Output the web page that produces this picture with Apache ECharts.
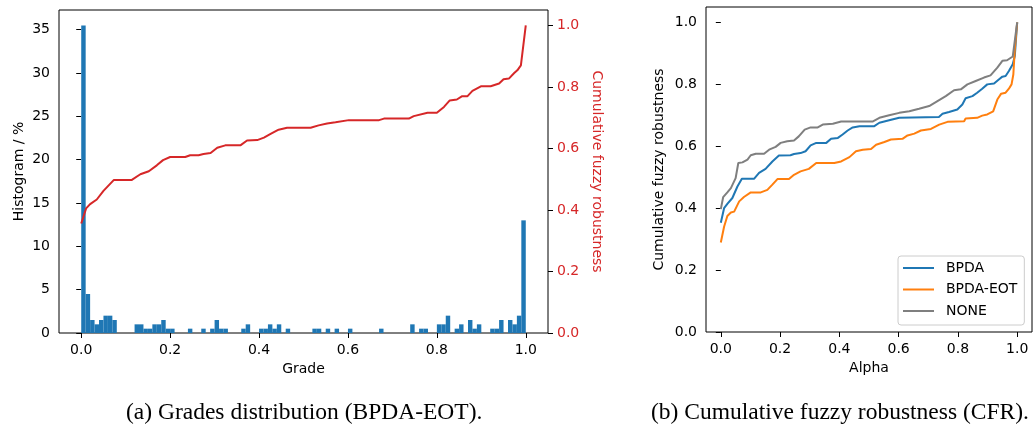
<!DOCTYPE html>
<html>
<head>
<meta charset="utf-8">
<script src="https://cdn.jsdelivr.net/npm/echarts@6/dist/echarts.min.js"></script>
<style>
  html, body { margin: 0; padding: 0; background: #fff; }
  #main { width: 1033px; height: 431px; }
</style>
</head>
<body>
<div id="main"></div>
<script>
    // (a) histogram of grades, % per 0.01 bin (100 bins from 0 to 1)
    var histPct = [
        35.5, 4.5, 1.5, 1.0, 1.5, 2.0, 2.0, 1.5, 0, 0,
        0, 0, 1.0, 1.0, 0.5, 0.5, 1.0, 1.0, 1.5, 0.5,
        0.5, 0, 0, 0, 0.5, 0, 0, 0.5, 0, 0.5,
        1.5, 0.5, 0.5, 0, 0, 0, 0.5, 1.0, 0, 0,
        0.5, 0.5, 1.0, 0.5, 1.0, 0, 0.5, 0, 0, 0,
        0, 0, 0.5, 0.5, 0, 0.5, 0, 0.5, 0, 0,
        0.5, 0, 0, 0, 0, 0, 0, 0.5, 0, 0,
        0, 0, 0, 0, 1.0, 0, 0.5, 0.5, 0, 0,
        1.0, 1.0, 2.0, 0, 0.5, 1.0, 0, 1.5, 0.5, 1.0,
        0, 0, 0.5, 0.5, 1.5, 0, 1.5, 1.0, 2.0, 13.0
    ];
    var binWidth = 0.01;

    // (a) cumulative fuzzy robustness vs grade (red line)
    var gradeX = [0, 0.011, 0.020, 0.035, 0.050, 0.073, 0.113, 0.133, 0.152, 0.170,
        0.184, 0.200, 0.234, 0.245, 0.264, 0.275, 0.291, 0.306, 0.324, 0.358,
        0.373, 0.396, 0.411, 0.426, 0.444, 0.463, 0.516, 0.534, 0.553, 0.572,
        0.602, 0.670, 0.681, 0.737, 0.748, 0.779, 0.800, 0.816, 0.829, 0.845,
        0.857, 0.869, 0.880, 0.899, 0.921, 0.940, 0.950, 0.962, 0.974, 0.981,
        0.989, 1.0];
    var gradeCfr = [0.356, 0.405, 0.419, 0.434, 0.462, 0.497, 0.497, 0.516, 0.526, 0.545,
        0.562, 0.572, 0.572, 0.578, 0.578, 0.582, 0.585, 0.602, 0.610, 0.610,
        0.626, 0.627, 0.635, 0.647, 0.661, 0.667, 0.667, 0.675, 0.681, 0.685,
        0.692, 0.692, 0.697, 0.697, 0.705, 0.716, 0.716, 0.735, 0.756, 0.759,
        0.770, 0.770, 0.787, 0.802, 0.802, 0.811, 0.825, 0.827, 0.845, 0.854,
        0.870, 1.0];

    // (b) CFR vs alpha
    var bpdaX = [0, 0.011, 0.022, 0.039, 0.056, 0.071, 0.112, 0.129, 0.151, 0.174,
        0.196, 0.235, 0.247, 0.269, 0.286, 0.303, 0.322, 0.356, 0.372, 0.395,
        0.411, 0.428, 0.445, 0.468, 0.518, 0.535, 0.568, 0.602, 0.736, 0.748,
        0.770, 0.798, 0.815, 0.826, 0.849, 0.865, 0.882, 0.899, 0.922, 0.938,
        0.950, 0.961, 0.972, 0.985, 0.992, 1.0];
    var bpdaY = [0.353, 0.400, 0.414, 0.433, 0.470, 0.495, 0.495, 0.514, 0.527, 0.551,
        0.570, 0.571, 0.575, 0.578, 0.584, 0.603, 0.611, 0.611, 0.624, 0.627,
        0.638, 0.651, 0.661, 0.665, 0.665, 0.676, 0.684, 0.692, 0.695, 0.705,
        0.711, 0.719, 0.735, 0.755, 0.762, 0.773, 0.786, 0.800, 0.803, 0.816,
        0.825, 0.827, 0.843, 0.865, 0.892, 1.0];

    var eotX = [0, 0.011, 0.022, 0.034, 0.045, 0.062, 0.078, 0.101, 0.135, 0.157,
        0.174, 0.191, 0.230, 0.247, 0.269, 0.297, 0.322, 0.383, 0.406, 0.434,
        0.456, 0.479, 0.507, 0.524, 0.552, 0.574, 0.613, 0.630, 0.653, 0.675,
        0.709, 0.737, 0.765, 0.821, 0.826, 0.865, 0.882, 0.899, 0.919, 0.933,
        0.946, 0.961, 0.972, 0.981, 0.987, 0.992, 1.0];
    var eotY = [0.289, 0.340, 0.375, 0.386, 0.389, 0.422, 0.436, 0.451, 0.451, 0.459,
        0.476, 0.494, 0.494, 0.508, 0.519, 0.527, 0.546, 0.546, 0.551, 0.565,
        0.584, 0.589, 0.591, 0.605, 0.614, 0.622, 0.624, 0.635, 0.641, 0.651,
        0.656, 0.670, 0.679, 0.681, 0.690, 0.692, 0.699, 0.703, 0.713, 0.751,
        0.770, 0.773, 0.786, 0.800, 0.832, 0.913, 1.0];

    var noneX = [0, 0.008, 0.022, 0.034, 0.050, 0.059, 0.073, 0.090, 0.101, 0.118,
        0.146, 0.163, 0.185, 0.202, 0.224, 0.247, 0.263, 0.283, 0.303, 0.327,
        0.344, 0.378, 0.406, 0.512, 0.535, 0.568, 0.602, 0.636, 0.669, 0.703,
        0.731, 0.759, 0.787, 0.810, 0.832, 0.860, 0.888, 0.910, 0.933, 0.950,
        0.966, 0.985, 1.0];
    var noneY = [0.397, 0.436, 0.451, 0.465, 0.497, 0.546, 0.548, 0.557, 0.571, 0.576,
        0.576, 0.589, 0.598, 0.611, 0.616, 0.619, 0.632, 0.654, 0.661, 0.661,
        0.670, 0.673, 0.680, 0.680, 0.692, 0.700, 0.708, 0.713, 0.721, 0.730,
        0.746, 0.762, 0.781, 0.784, 0.800, 0.811, 0.822, 0.829, 0.854, 0.876,
        0.878, 0.890, 1.0];

    var unitTicks = [0, 0.2, 0.4, 0.6, 0.8, 1.0];
    var histTicks = [0, 5, 10, 15, 20, 25, 30, 35];

    function pairs(xs, ys) {
        return xs.map(function (x, i) { return [x, ys[i]]; });
    }

    var font = 'DejaVu Sans';
    var fs = 14;
    var red = '#d62728';

    function valueAxis(extra) {
        var base = {
            type: 'value',
            splitLine: { show: false },
            axisLine: { show: false },
            axisTick: { show: true, inside: false, length: 5, lineStyle: { color: '#000', width: 1 } },
            axisLabel: { color: '#000', fontFamily: font, fontSize: fs, margin: 9 },
            nameTextStyle: { color: '#000', fontFamily: font, fontSize: fs }
        };
        return echarts.util.merge(base, extra, true);
    }

    var chartDom = document.getElementById('main');
    var myChart = echarts.init(chartDom, null, { renderer: 'canvas' });

    var captionStyle = { fontFamily: 'Liberation Serif', fontSize: 23.5, fontWeight: 'normal', color: '#000' };

    var option = {
        animation: false,
        backgroundColor: '#fff',
        title: [
            { text: '(a) Grades distribution (BPDA-EOT).', left: 126, top: 401, padding: 0, textStyle: captionStyle },
            { text: '(b) Cumulative fuzzy robustness (CFR).', left: 651, top: 401, padding: 0, textStyle: captionStyle }
        ],
        grid: [
            { left: 59, top: 10, width: 489, height: 323, show: true, borderColor: '#000', borderWidth: 1, backgroundColor: 'transparent' },
            { left: 706, top: 7, width: 326, height: 325, show: true, borderColor: '#000', borderWidth: 1, backgroundColor: 'transparent' }
        ],
        legend: {
            data: ['BPDA', 'BPDA-EOT', 'NONE'],
            orient: 'vertical',
            left: 898, top: 256,
            padding: [5, 7, 7, 5],
            icon: 'rect',
            itemWidth: 31, itemHeight: 2, itemGap: 7.5,
            borderColor: '#cccccc', borderWidth: 1, borderRadius: 3,
            backgroundColor: 'rgba(255,255,255,0.8)',
            textStyle: { color: '#000', fontFamily: font, fontSize: fs, padding: [0, 0, 0, 7] }
        },
        xAxis: [
            valueAxis({
                gridIndex: 0, min: -0.05, max: 1.05,
                name: 'Grade', nameLocation: 'middle', nameGap: 29,
                axisTick: { customValues: unitTicks },
                axisLabel: { margin: 10, customValues: unitTicks, formatter: function (v) { return v.toFixed(1); } }
            }),
            valueAxis({
                gridIndex: 1, min: -0.05, max: 1.05,
                name: 'Alpha', nameLocation: 'middle', nameGap: 29,
                axisTick: { customValues: unitTicks },
                axisLabel: { margin: 10, customValues: unitTicks, formatter: function (v) { return v.toFixed(1); } }
            })
        ],
        yAxis: [
            valueAxis({
                gridIndex: 0, min: 0, max: 37.275,
                name: 'Histogram / %', nameLocation: 'middle', nameRotate: 90, nameGap: 33,
                axisTick: { customValues: histTicks },
                axisLabel: { customValues: histTicks }
            }),
            valueAxis({
                gridIndex: 0, min: 0, max: 1.05, position: 'right',
                name: 'Cumulative fuzzy robustness', nameLocation: 'middle', nameRotate: -90, nameGap: 42,
                nameTextStyle: { color: red },
                axisTick: { customValues: unitTicks },
                axisLabel: { color: red, customValues: unitTicks, formatter: function (v) { return v.toFixed(1); } }
            }),
            valueAxis({
                gridIndex: 1, min: 0, max: 1.05,
                name: 'Cumulative fuzzy robustness', nameLocation: 'middle', nameRotate: 90, nameGap: 40,
                axisTick: { customValues: unitTicks },
                axisLabel: { customValues: unitTicks, formatter: function (v) { return v.toFixed(1); } }
            })
        ],
        series: [
            {
                name: 'Histogram',
                type: 'custom',
                xAxisIndex: 0,
                yAxisIndex: 0,
                data: histPct.map(function (v, i) { return [i * binWidth, v]; }),
                encode: { x: 0, y: 1 },
                renderItem: function (params, api) {
                    var x0 = api.value(0);
                    var v = api.value(1);
                    if (!v) return;
                    var p0 = api.coord([x0, v]);
                    var p1 = api.coord([x0 + binWidth, 0]);
                    return {
                        type: 'rect',
                        shape: { x: p0[0], y: p0[1], width: p1[0] - p0[0], height: p1[1] - p0[1] },
                        style: { fill: '#1f77b4' }
                    };
                },
                z: 2
            },
            {
                name: 'CFR',
                type: 'line',
                xAxisIndex: 0,
                yAxisIndex: 1,
                data: pairs(gradeX, gradeCfr),
                symbol: 'none',
                lineStyle: { color: red, width: 2 },
                itemStyle: { color: red },
                z: 3
            },
            {
                name: 'BPDA',
                type: 'line',
                xAxisIndex: 1,
                yAxisIndex: 2,
                data: pairs(bpdaX, bpdaY),
                symbol: 'none',
                lineStyle: { color: '#1f77b4', width: 2 },
                itemStyle: { color: '#1f77b4' }
            },
            {
                name: 'BPDA-EOT',
                type: 'line',
                xAxisIndex: 1,
                yAxisIndex: 2,
                data: pairs(eotX, eotY),
                symbol: 'none',
                lineStyle: { color: '#ff7f0e', width: 2 },
                itemStyle: { color: '#ff7f0e' }
            },
            {
                name: 'NONE',
                type: 'line',
                xAxisIndex: 1,
                yAxisIndex: 2,
                data: pairs(noneX, noneY),
                symbol: 'none',
                lineStyle: { color: '#7f7f7f', width: 2 },
                itemStyle: { color: '#7f7f7f' }
            }
        ]
    };

    option && myChart.setOption(option);
</script>
</body>
</html>
